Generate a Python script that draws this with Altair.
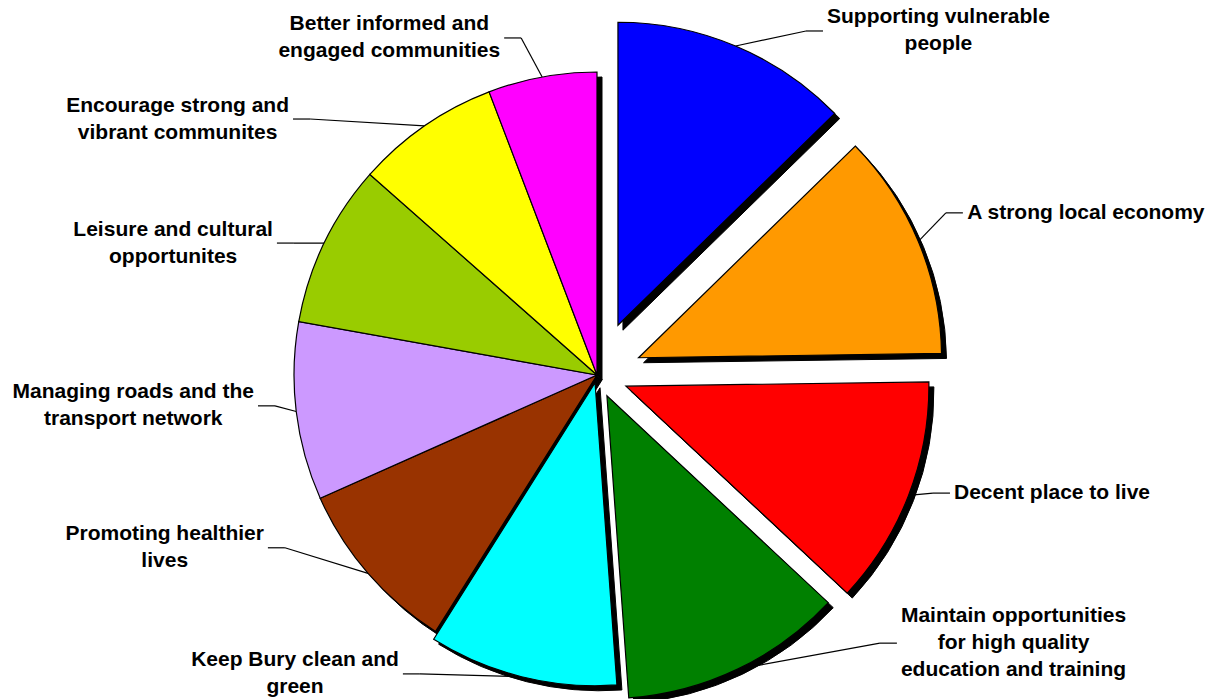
import altair as alt

# ---- data ----
categories = [
    "Supporting vulnerable people",
    "A strong local economy",
    "Decent place to live",
    "Maintain opportunities for high quality education and training",
    "Keep Bury clean and green",
    "Promoting healthier lives",
    "Managing roads and the transport network",
    "Leisure and cultural opportunites",
    "Encourage strong and vibrant communites",
    "Better informed and engaged communities",
]
label_lines = [
    ["Supporting vulnerable", "people"],
    ["A strong local economy"],
    ["Decent place to live"],
    ["Maintain opportunities", "for high quality", "education and training"],
    ["Keep Bury clean and", "green"],
    ["Promoting healthier", "lives"],
    ["Managing roads and the", "transport network"],
    ["Leisure and cultural", "opportunites"],
    ["Encourage strong and", "vibrant communites"],
    ["Better informed and", "engaged communities"],
]
values = [12.7, 12.1, 12.2, 11.9, 10.1, 9.4, 9.5, 8.7, 7.7, 5.8]
colors = ["#0000FF", "#FF9900", "#FF0000", "#008000", "#00FFFF",
          "#993300", "#CC99FF", "#99CC00", "#FFFF00", "#FF00FF"]

# ---- layout (explosion per slice, label anchor in polar coords around the pie centre) ----
explode = [54, 45, 31, 23, 8, 0, 0, 0, 0, 0]
label_angle = [33.3, 66.1, 108.5, 131.8, 213.0, 242.3, 264.8, 292.4, 310.1, 344.6]
label_radius = [411.6, 400.2, 372.2, 402.3, 356.4, 371.7, 340.4, 346.2, 397.4, 349.6]

W, H = 1216, 699
CX, CY, R = 597, 375, 303
SHADOW = 5
FONT_SIZE = 21
LINE_H = 27
STUB = 17
GAP = 4

# Arial/Liberation Sans Bold advance widths (per 1000 em) for text block sizing
_AW = {" ": 278, "A": 722, "B": 722, "D": 722, "E": 667, "K": 722, "L": 611, "M": 833,
       "P": 667, "S": 667, "a": 556, "b": 611, "c": 556, "d": 611, "e": 556, "f": 333,
       "g": 611, "h": 611, "i": 278, "k": 556, "l": 278, "m": 889, "n": 611, "o": 611,
       "p": 611, "q": 611, "r": 389, "s": 556, "t": 333, "u": 611, "v": 556, "w": 778,
       "y": 556}


def half_width(lines):
    return max(sum(_AW.get(ch, 600) for ch in ln) for ln in lines) * FONT_SIZE / 1000 / 2


records = [
    {"order": i, "cat": categories[i], "value": values[i], "explode": explode[i],
     "la": label_angle[i], "lr": label_radius[i], "lines": label_lines[i],
     "hw": half_width(label_lines[i])}
    for i in range(len(categories))
]

base = (
    alt.Chart(alt.Data(values=records))
    .transform_joinaggregate(total="sum(value)")
    .transform_window(cum="sum(value)", sort=[alt.SortField("order")], frame=[None, 0])
    .transform_calculate(a0="(datum.cum - datum.value) / datum.total * 2 * PI")
    .transform_calculate(a1="datum.cum / datum.total * 2 * PI")
    .transform_calculate(mid="(datum.a0 + datum.a1) / 2")
    .transform_calculate(cx=f"{CX} + datum.explode * sin(datum.mid)")
    .transform_calculate(cy=f"{CY} - datum.explode * cos(datum.mid)")
    .transform_calculate(shx=f"datum.cx + {SHADOW}")
    .transform_calculate(shy=f"datum.cy + {SHADOW}")
    .transform_calculate(sx=f"datum.cx + {R} * sin(datum.mid)")
    .transform_calculate(sy=f"datum.cy - {R} * cos(datum.mid)")
    .transform_calculate(side="sin(datum.la * PI / 180) >= 0 ? 1 : -1")
    .transform_calculate(ex=f"{CX} + datum.lr * sin(datum.la * PI / 180)")
    .transform_calculate(ey=f"{CY} - datum.lr * cos(datum.la * PI / 180)")
    .transform_calculate(kx=f"datum.ex - datum.side * {STUB}")
    .transform_calculate(tx=f"datum.ex + datum.side * ({GAP} + datum.hw)")
    .transform_calculate(ty=f"datum.ey - (length(datum.lines) - 1) * {LINE_H} / 2")
)

theta = alt.Theta("a0:Q", scale=None, stack=None)
theta2 = alt.Theta2("a1:Q")

shadow = base.mark_arc(outerRadius=R, fill="black", stroke="black", strokeWidth=1).encode(
    x=alt.X("shx:Q", scale=None, axis=None),
    y=alt.Y("shy:Q", scale=None, axis=None),
    theta=theta, theta2=theta2,
)

lead1 = base.mark_rule(color="black", strokeWidth=1.2).encode(
    x=alt.X("sx:Q", scale=None, axis=None),
    y=alt.Y("sy:Q", scale=None, axis=None),
    x2="kx:Q", y2="ey:Q",
)
lead2 = base.mark_rule(color="black", strokeWidth=1.2).encode(
    x=alt.X("kx:Q", scale=None, axis=None),
    y=alt.Y("ey:Q", scale=None, axis=None),
    x2="ex:Q", y2="ey:Q",
)

slices = base.mark_arc(outerRadius=R, stroke="black", strokeWidth=1.2).encode(
    x=alt.X("cx:Q", scale=None, axis=None),
    y=alt.Y("cy:Q", scale=None, axis=None),
    theta=theta, theta2=theta2,
    fill=alt.Fill("cat:N", scale=alt.Scale(domain=categories, range=colors), legend=None),
)

labels = base.mark_text(
    font="Liberation Sans", fontSize=FONT_SIZE, fontWeight="bold", lineHeight=LINE_H,
    align="center", baseline="middle", color="black",
).encode(
    x=alt.X("tx:Q", scale=None, axis=None),
    y=alt.Y("ty:Q", scale=None, axis=None),
    text=alt.Text("lines:N"),
)

chart = (
    alt.layer(shadow, lead1, lead2, slices, labels)
    .properties(width=W, height=H, padding=0, autosize=alt.AutoSizeParams(type="none"),
                background="white")
    .configure_view(stroke=None)
)

chart.save("out.html", embed_options={"renderer": "svg", "actions": False})
